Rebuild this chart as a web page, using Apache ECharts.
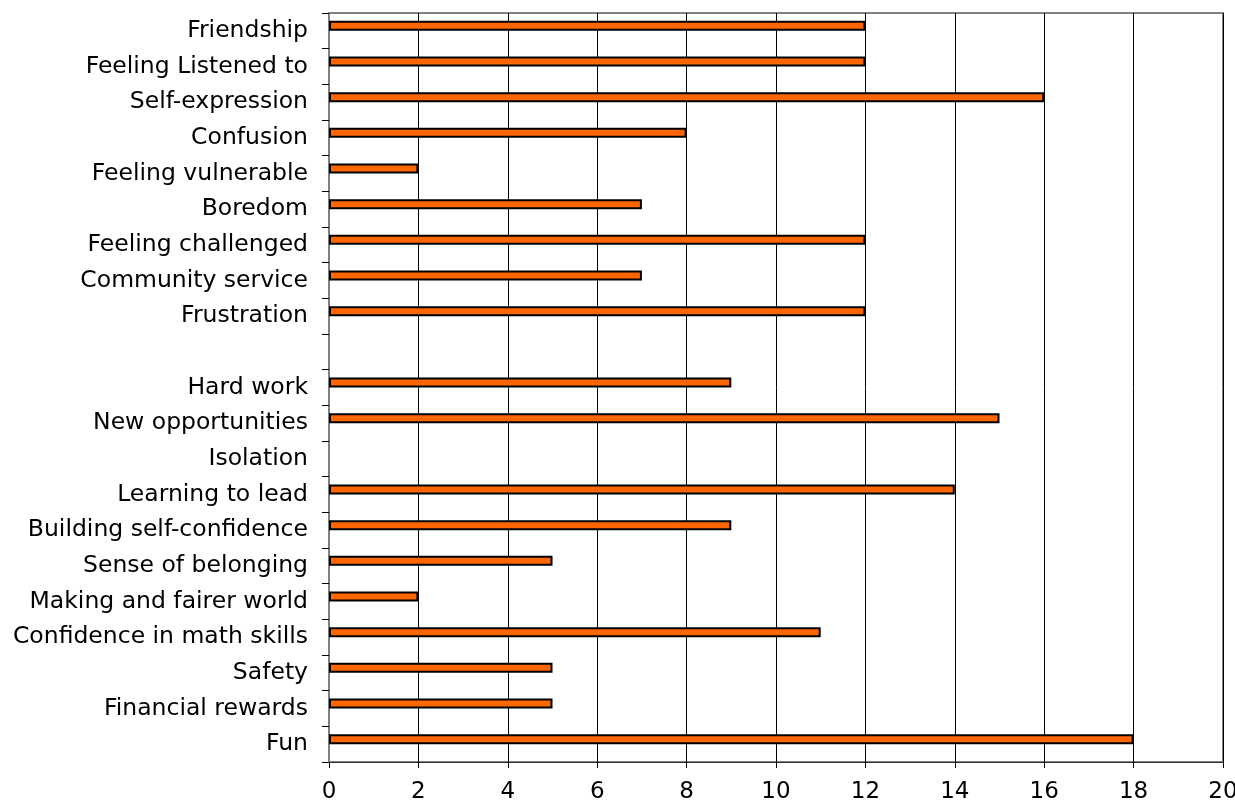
<!DOCTYPE html>
<html lang="en">
<head>
  <meta charset="UTF-8">
  <script src="https://cdn.jsdelivr.net/npm/echarts@6/dist/echarts.min.js"></script>
  <title>chart</title>
  <style>
    html, body { margin: 0; padding: 0; background: #fff; }
    #main { width: 1235px; height: 803px; }
  </style>
</head>
<body>
  <div id="main"></div>
  <script>
    // categories top to bottom, one blank row between Frustration and Hard work
    var categories = ['Friendship', 'Feeling Listened to', 'Self-expression', 'Confusion',
      'Feeling vulnerable', 'Boredom', 'Feeling challenged', 'Community service', 'Frustration',
      '', 'Hard work', 'New opportunities', 'Isolation', 'Learning to lead',
      'Building self-confidence', 'Sense of belonging', 'Making and fairer world',
      'Confidence in math skills', 'Safety', 'Financial rewards', 'Fun'];
    var values = [12, 12, 16, 8, 2, 7, 12, 7, 12, null, 9, 15, null, 14, 9, 5, 2, 11, 5, 5, 18];
    var xTicks = { min: 0, max: 20, interval: 2 };

    var chart = echarts.init(document.getElementById('main'));
    chart.setOption({
      animation: false,
      textStyle: { fontFamily: 'DejaVu Sans' },
      grid: {
        left: 329, right: 12, top: 13, bottom: 41,
        outerBoundsMode: 'none',
        show: true, borderColor: '#808080', borderWidth: 2
      },
      xAxis: {
        type: 'value',
        min: xTicks.min, max: xTicks.max, interval: xTicks.interval,
        axisLine: { show: true, lineStyle: { color: '#333', width: 1 } },
        axisTick: { show: true, length: 6, lineStyle: { color: '#000' } },
        axisLabel: { color: '#000', fontSize: 23, margin: 19 },
        splitLine: { show: true, lineStyle: { color: '#000', width: 1 } }
      },
      yAxis: {
        type: 'category',
        inverse: true,
        data: categories,
        axisLine: { show: true, lineStyle: { color: '#808080', width: 2 } },
        axisTick: { show: true, length: 7, lineStyle: { color: '#000' } },
        axisLabel: { color: '#000', fontSize: 23.5, margin: 21 },
        splitLine: { show: false }
      },
      series: [
        {
          type: 'bar',
          data: values,
          barWidth: 10,
          barGap: '0%',
          itemStyle: { color: '#ff6600', borderColor: '#000', borderWidth: 2 }
        },
        {
          type: 'bar',
          data: [],
          barWidth: 10
        }
      ]
    });
  </script>
</body>
</html>
